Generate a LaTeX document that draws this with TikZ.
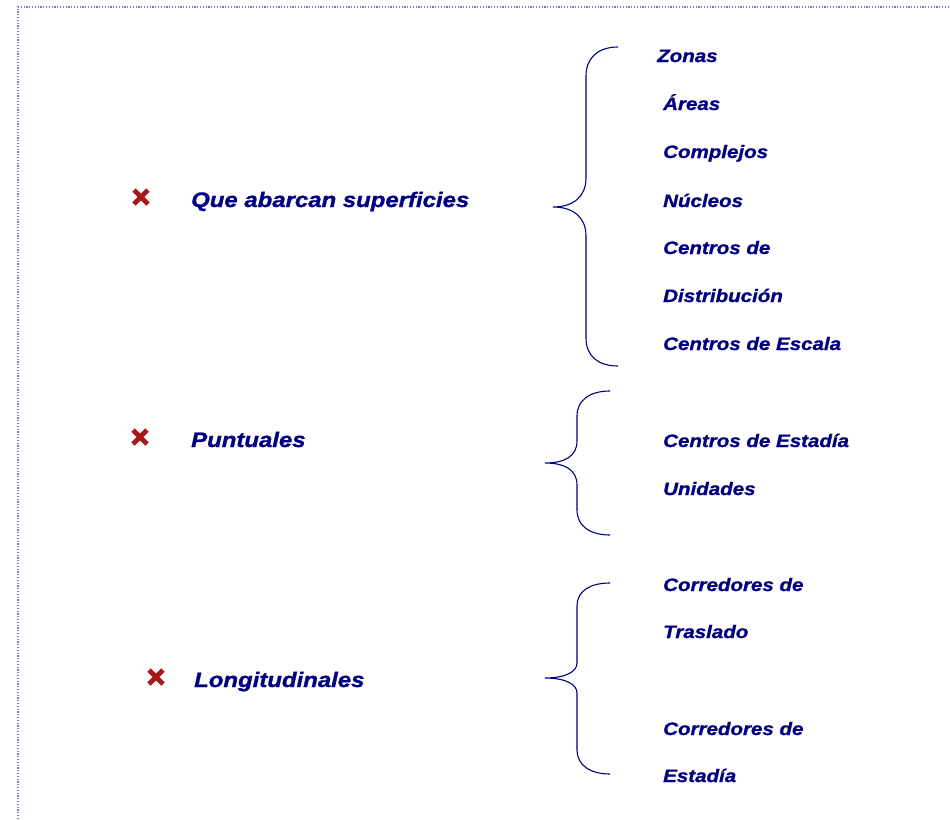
\documentclass[tikz,border=0pt]{standalone}
\usepackage{fontspec}
\newfontfamily\eurfont[FakeStretch=1.14,FakeBold=1.2]{Liberation Sans}
\definecolor{navy}{HTML}{000080}
\definecolor{xred}{HTML}{A81818}
\definecolor{frame}{HTML}{7878C0}
\begin{document}
\begin{tikzpicture}[x=1pt,y=-1pt,
  big/.style={anchor=base west,inner sep=0pt,text=navy,font=\eurfont\bfseries\itshape\fontsize{21}{21}\selectfont},
  small/.style={anchor=base west,inner sep=0pt,text=navy,font=\eurfont\bfseries\itshape\fontsize{18}{18}\selectfont},
  brace/.style={draw=navy,line width=1.1pt},
  xmark/.style={draw=xred,line width=4.8pt,line cap=butt},
  border/.style={draw=frame,line width=1.2pt,dash pattern=on 1.2pt off 1.6pt}]
\useasboundingbox (0,0) rectangle (950,819);
\draw[border] (18,819) -- (18,7) -- (950,7);
% bullets
\foreach \n/\cx/\cy in {xa/141/197, xb/140/437, xc/156/677}{
  \coordinate (\n) at (\cx,\cy);
  \draw[xmark] ([shift={(-7,-7)}]\n) -- ([shift={(7,7)}]\n);
  \draw[xmark] ([shift={(-7,7)}]\n) -- ([shift={(7,-7)}]\n);
}
% left labels
\node[big] (q) at (191,207) {Que abarcan superficies};
\node[big] (p) at (191,447) {Puntuales};
\node[big] (l) at (194,687) {Longitudinales};
% right labels
\node[small] (r1) at (657,62) {Zonas};
\node[small] (r2) at (663,110) {Áreas};
\node[small] (r3) at (663,158) {Complejos};
\node[small] (r4) at (663,207) {Núcleos};
\node[small] (r5) at (663,254) {Centros de};
\node[small] (r6) at (663,302) {Distribución};
\node[small] (r7) at (663,350) {Centros de Escala};
\node[small] (s1) at (663,447) {Centros de Estadía};
\node[small] (s2) at (663,495) {Unidades};
\node[small] (t1) at (663,591) {Corredores de};
\node[small] (t2) at (663,638) {Traslado};
\node[small] (t3) at (663,735) {Corredores de};
\node[small] (t4) at (663,782) {Estadía};
% braces
\draw[brace] (618,47) .. controls (598,47) and (586,58) .. (586,76)
  -- (586,178) .. controls (586,196) and (574,207) .. (553,207)
  .. controls (574,207) and (586,218) .. (586,236)
  -- (586,338) .. controls (586,356) and (598,366) .. (618,366);
\draw[brace] (610,391) .. controls (590,391) and (577,400) .. (577,416)
  -- (577,441) .. controls (577,456) and (565,463) .. (545,463)
  .. controls (565,463) and (577,470) .. (577,485)
  -- (577,510) .. controls (577,526) and (590,535) .. (610,535);
\draw[brace] (610,583) .. controls (590,583) and (577,591) .. (577,606)
  -- (577,663) .. controls (577,672) and (565,678) .. (545,678)
  .. controls (565,678) and (577,684) .. (577,693)
  -- (577,750) .. controls (577,765) and (590,774) .. (610,774);
\end{tikzpicture}
\end{document}
